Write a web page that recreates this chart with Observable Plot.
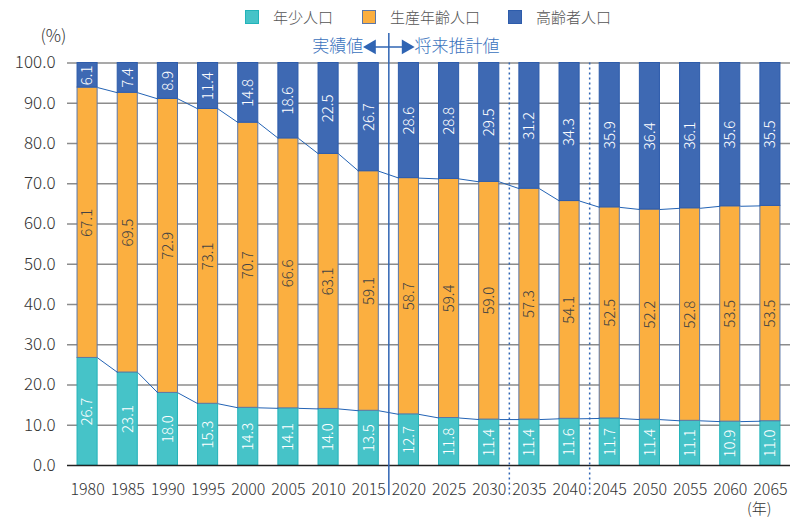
<!DOCTYPE html>
<html>
<head>
<meta charset="utf-8">
<script src="https://cdn.jsdelivr.net/npm/d3@7"></script>
<script src="https://cdn.jsdelivr.net/npm/@observablehq/plot@0.6"></script>
<style>
  html, body { margin: 0; padding: 0; background: #fff; }
  body { width: 795px; height: 519px; overflow: hidden; font-family: "Noto Sans CJK JP", "Noto Sans", sans-serif; }
  #legend { position: relative; height: 28px; }
  #legend .item { position: absolute; top: 6px; display: flex; align-items: center; font-size: 15px; color: #555; font-weight: 300; }
  #legend .sw { width: 12px; height: 12px; border: 1px solid; margin-right: 14px; }
</style>
</head>
<body>
<div id="legend"></div>
<div id="chart"></div>
<script>
const years = [1980, 1985, 1990, 1995, 2000, 2005, 2010, 2015, 2020, 2025, 2030, 2035, 2040, 2045, 2050, 2055, 2060, 2065];
const youth   = [26.7, 23.1, 18.0, 15.3, 14.3, 14.1, 14.0, 13.5, 12.7, 11.8, 11.4, 11.4, 11.6, 11.7, 11.4, 11.1, 10.9, 11.0];
const working = [67.1, 69.5, 72.9, 73.1, 70.7, 66.6, 63.1, 59.1, 58.7, 59.4, 59.0, 57.3, 54.1, 52.5, 52.2, 52.8, 53.5, 53.5];
const elderly = [6.1, 7.4, 8.9, 11.4, 14.8, 18.6, 22.5, 26.7, 28.6, 28.8, 29.5, 31.2, 34.3, 35.9, 36.4, 36.1, 35.6, 35.5];
const seriesNames = ["年少人口", "生産年齢人口", "高齢者人口"];
const seriesColors = ["#46C3C8", "#FBAF40", "#3E69B3"];
const seriesStrokes = ["#22B3B9", "#5B77A8", "#2D5CAB"];
const labelColors = ["#FFFFFF", "#444444", "#FFFFFF"];
const yTicks = [0, 10, 20, 30, 40, 50, 60, 70, 80, 90, 100];
const separators = [{after: 2015, kind: "solid"}, {after: 2030, kind: "dotted"}, {after: 2040, kind: "dotted"}];
const annotations = [{label: "実績値", side: -1}, {label: "将来推計値", side: 1}];

// legend
const legendX = [245, 362, 508];
const leg = document.getElementById("legend");
seriesNames.forEach((n, k) => {
  const it = document.createElement("div");
  it.className = "item";
  it.style.left = legendX[k] + "px";
  it.innerHTML = `<span class="sw" style="background:${seriesColors[k]};border-color:${seriesStrokes[k]}"></span><span>${n}</span>`;
  leg.appendChild(it);
});

// 100% stacked (shares normalised to the bar total)
const series = [youth, working, elderly];
const segs = [];
const cum = [[], []];
years.forEach((yr, i) => {
  const total = series.reduce((s, arr) => s + arr[i], 0);
  let base = 0;
  series.forEach((arr, k) => {
    const v = arr[i];
    const share = v / total * 100;
    segs.push({i, k, y1: base, y2: base + share, v});
    base += share;
    if (k < 2) cum[k][i] = base;
  });
});
const hw = 0.25;
const links = [];
cum.forEach(c => {
  for (let i = 0; i < years.length - 1; i++) {
    links.push({x1: i + hw, x2: i + 1 - hw, y1: c[i], y2: c[i + 1]});
  }
});
const sepData = separators.map(s => ({pos: years.indexOf(s.after) + 0.5, kind: s.kind}));
const solidPos = sepData.find(s => s.kind === "solid").pos;
const annY = 104;
const arrowSpan = 0.55;

const blue = "#2F64B3";
const font = "'Noto Sans CJK JP', 'Noto Sans', sans-serif";
const chart = Plot.plot({
  width: 795,
  height: 491,
  marginTop: 34.5,
  marginBottom: 54,
  marginLeft: 67,
  marginRight: 5,
  x: {domain: [-0.5, years.length - 0.5]},
  y: {domain: [0, 100]},
  style: {fontFamily: font, background: "#fff", overflow: "visible", fontWeight: 300},
  marks: [
    Plot.ruleY(yTicks.filter(d => d > 0), {stroke: "#8C8C8C", strokeWidth: 1.5}),
    Plot.rect(segs, {x1: d => d.i - hw, x2: d => d.i + hw, y1: "y1", y2: "y2",
      fill: d => seriesColors[d.k], stroke: d => seriesStrokes[d.k], strokeWidth: 1}),
    Plot.ruleY([0], {stroke: "#222", strokeWidth: 1.5}),
    Plot.link(links, {x1: "x1", x2: "x2", y1: "y1", y2: "y2", stroke: "#2363B5", strokeWidth: 1}),
    Plot.text(segs, {x: "i", y: d => (d.y1 + d.y2) / 2, text: d => d.v.toFixed(1), rotate: -90,
      fill: d => labelColors[d.k], fontSize: 15}),
    Plot.ruleX(sepData.filter(s => s.kind === "solid"), {x: "pos", stroke: blue, strokeWidth: 1.5, insetTop: -29.5, insetBottom: -30}),
    Plot.ruleX(sepData.filter(s => s.kind === "dotted"), {x: "pos", stroke: blue, strokeWidth: 1.5, strokeDasharray: "2,3", insetBottom: -30}),
    Plot.link([{x1: solidPos - arrowSpan, x2: solidPos + arrowSpan}], {x1: "x1", x2: "x2", y1: annY, y2: annY, stroke: blue, strokeWidth: 1.5}),
    Plot.dot(annotations, {x: d => solidPos + d.side * (arrowSpan - 0.12), y: annY, symbol: "triangle", r: 5.5,
      rotate: d => d.side * 90, fill: blue, stroke: "none"}),
    Plot.text(annotations.filter(d => d.side < 0), {x: d => solidPos + d.side * 0.64, y: annY, text: "label",
      textAnchor: "end", fill: "#3A72BD", fontSize: 17}),
    Plot.text(annotations.filter(d => d.side > 0), {x: d => solidPos + d.side * 0.64, y: annY, text: "label",
      textAnchor: "start", fill: "#3A72BD", fontSize: 17}),
    Plot.axisY(yTicks, {tickSize: 0, tickPadding: 12, tickFormat: d3.format(".1f"), fontSize: 17, fill: "#333"}),
    Plot.axisX(d3.range(years.length), {tickSize: 0, tickPadding: 18, tickFormat: i => String(years[i]), fontSize: 16, fill: "#333"}),
    Plot.text(["(%)"], {frameAnchor: "top-left", dx: -27, dy: -26, lineAnchor: "middle", text: d => d, fontSize: 17, fill: "#333"}),
    Plot.text(["(年)"], {frameAnchor: "bottom-right", dx: -19, dy: 44, lineAnchor: "middle", text: d => d, fontSize: 15, fill: "#333"})
  ]
});
document.getElementById("chart").appendChild(chart);
</script>
</body>
</html>
